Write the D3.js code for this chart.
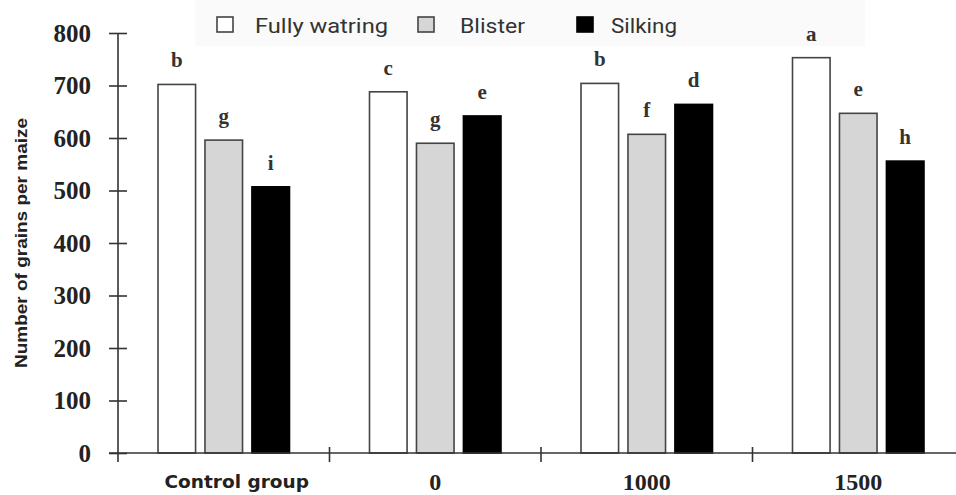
<!DOCTYPE html>
<html>
<head>
<meta charset="utf-8">
<script src="https://cdn.jsdelivr.net/npm/d3@7"></script>
<style>
  body { margin: 0; background: #fff; }
  svg { display: block; }
</style>
</head>
<body>
<script>
(function(d3) {
  var categories = ["Control group", "0", "1000", "1500"];
  var series = ["Fully watring", "Blister", "Silking"];
  var fullyWatring = [702, 688, 704, 753];
  var blister = [596, 590, 607, 647];
  var silking = [507, 642, 664, 556];
  var lettersFully = ["b", "c", "b", "a"];
  var lettersBlister = ["g", "g", "f", "e"];
  var lettersSilking = ["i", "e", "d", "h"];
  var yTicks = [0, 100, 200, 300, 400, 500, 600, 700, 800];

  var values = [fullyWatring, blister, silking];
  var letters = [lettersFully, lettersBlister, lettersSilking];
  var fills = ["#ffffff", "#d6d6d6", "#000000"];
  var strokes = ["#444", "#444", "#000"];

  var width = 956, height = 495;
  var left = 118, top = 33, bottom = 453;

  var svg = d3.select("body").append("svg").attr("width", width).attr("height", height);

  // faint legend band
  svg.append("rect").attr("x", 195).attr("y", 0).attr("width", 670).attr("height", 46)
    .attr("fill", "#fafafa");

  var x0 = d3.scaleBand().domain(categories).range([left, left + 211.5 * 4]);
  var x1 = d3.scaleBand().domain(series).range([40, 171.5]).paddingInner(0.2);
  var y = d3.scaleLinear().domain([0, 800]).range([bottom, top]);

  // bars
  var rows = [];
  categories.forEach(function(c, i) {
    series.forEach(function(s, j) {
      rows.push({ cat: c, s: s, j: j, v: values[j][i], letter: letters[j][i] });
    });
  });

  svg.selectAll("rect.bar").data(rows).enter().append("rect")
    .attr("class", "bar")
    .attr("x", function(d) { return x0(d.cat) + x1(d.s); })
    .attr("y", function(d) { return y(d.v); })
    .attr("width", x1.bandwidth())
    .attr("height", function(d) { return bottom - y(d.v); })
    .attr("fill", function(d) { return fills[d.j]; })
    .attr("stroke", function(d) { return strokes[d.j]; })
    .attr("stroke-width", 1.6);

  svg.selectAll("text.letter").data(rows).enter().append("text")
    .attr("class", "letter")
    .attr("x", function(d) { return x0(d.cat) + x1(d.s) + x1.bandwidth() / 2; })
    .attr("y", function(d) { return y(d.v) - 17; })
    .attr("text-anchor", "middle")
    .attr("font-family", "Liberation Serif, Times New Roman, serif")
    .attr("font-weight", "bold")
    .attr("font-size", "21px")
    .attr("fill", "#333")
    .text(function(d) { return d.letter; });

  // y axis
  var yAxis = svg.append("g").attr("transform", "translate(" + left + ",0)")
    .call(d3.axisLeft(y).tickValues(yTicks).tickSizeInner(9).tickSizeOuter(0).tickPadding(18));
  yAxis.select(".domain").remove();
  yAxis.selectAll(".tick line").attr("x1", 9).attr("stroke", "#333").attr("stroke-width", 1.6);
  yAxis.selectAll(".tick text")
    .attr("font-family", "Liberation Serif, Times New Roman, serif")
    .attr("font-weight", "bold")
    .attr("font-size", "25px")
    .attr("fill", "#222");
  svg.append("line").attr("x1", left).attr("x2", left).attr("y1", top).attr("y2", bottom + 9)
    .attr("stroke", "#333").attr("stroke-width", 1.6);

  // x axis
  svg.append("line").attr("x1", left - 9).attr("x2", width).attr("y1", bottom).attr("y2", bottom)
    .attr("stroke", "#333").attr("stroke-width", 1.6);
  svg.selectAll("line.xtick").data(categories.slice(1)).enter().append("line")
    .attr("class", "xtick")
    .attr("x1", function(d) { return x0(d); }).attr("x2", function(d) { return x0(d); })
    .attr("y1", bottom - 6).attr("y2", bottom + 9)
    .attr("stroke", "#333").attr("stroke-width", 1.6);

  svg.selectAll("text.xlabel").data(categories).enter().append("text")
    .attr("class", "xlabel")
    .attr("x", function(d, i) { return x0(d) + x0.bandwidth() / 2 + (i === 0 ? 13 : 0); })
    .attr("y", function(d, i) { return i === 0 ? 488 : 490; })
    .attr("text-anchor", "middle")
    .attr("font-family", function(d, i) { return i === 0 ? "DejaVu Sans, Verdana, sans-serif" : "Liberation Serif, Times New Roman, serif"; })
    .attr("font-weight", "bold")
    .attr("font-size", function(d, i) { return i === 0 ? "18.5px" : "24px"; })
    .attr("fill", "#222")
    .text(function(d) { return d; });

  // y title
  svg.append("text")
    .attr("transform", "translate(27,243) rotate(-90)")
    .attr("text-anchor", "middle")
    .attr("font-family", "Liberation Sans, Arial, sans-serif")
    .attr("font-weight", "bold")
    .attr("font-size", "17px")
    .attr("textLength", 250)
    .attr("lengthAdjust", "spacingAndGlyphs")
    .attr("fill", "#222")
    .text("Number of grains per maize");

  // legend
  var legendX = [217, 418, 577];
  var legendTextX = [38, 42, 34];
  var legendLen = [133, 65, 66];
  var legend = svg.selectAll("g.legend").data(series).enter().append("g")
    .attr("class", "legend")
    .attr("transform", function(d, i) { return "translate(" + legendX[i] + ",17)"; });
  legend.append("rect").attr("width", 16).attr("height", 15)
    .attr("fill", function(d, i) { return fills[i]; })
    .attr("stroke", function(d, i) { return strokes[i]; })
    .attr("stroke-width", 1.6);
  legend.append("text").attr("x", function(d, i) { return legendTextX[i]; }).attr("y", 16)
    .attr("font-family", "Roboto, Arial, sans-serif")
    .attr("font-size", "21px")
    .attr("textLength", function(d, i) { return legendLen[i]; })
    .attr("lengthAdjust", "spacingAndGlyphs")
    .attr("fill", "#333")
    .text(function(d) { return d; });
})(d3);
</script>
</body>
</html>
